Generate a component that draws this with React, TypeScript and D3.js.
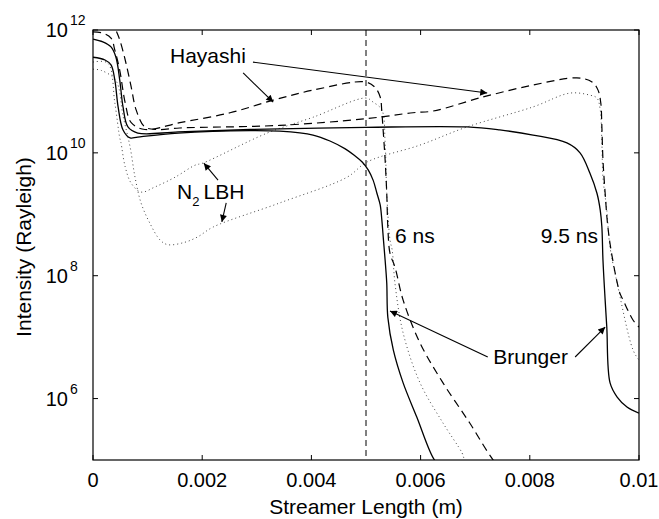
import React from "react";
import { scaleLinear, scaleLog, line, curveCatmullRom } from "d3";

// streamer length (m) vs intensity (Rayleigh)
const brunger6: [number, number][] = [
  [0, 3.6e11], [0.00022, 3.25e11], [0.00033, 2.7e11], [0.0004, 1.53e11],
  [0.00046, 5.6e10], [0.00055, 2.36e10], [0.00068, 1.75e10], [0.00082, 1.81e10],
  [0.00156, 2.1e10], [0.00288, 2.3e10], [0.00342, 2.25e10], [0.00403, 1.95e10],
  [0.00434, 1.56e10], [0.00462, 1.16e10], [0.0048, 8.9e9], [0.00493, 7.1e9],
  [0.00504, 5.3e9], [0.00513, 3.6e9], [0.0052, 2.2e9], [0.00526, 1.42e9],
  [0.00529, 8.1e8], [0.00532, 3.8e8], [0.00535, 1.8e8], [0.00538, 7.6e7],
  [0.0054, 2.1e7], [0.0055, 6.2e6], [0.00568, 1.8e6], [0.00593, 5.0e5],
  [0.00623, 1.08e5], [0.0064, 7e4],
];

const brunger95: [number, number][] = [
  [0, 7.1e11], [0.00018, 6.4e11], [0.00033, 5.3e11], [0.00042, 3.6e11],
  [0.00049, 1.53e11], [0.00055, 5.6e10], [0.00064, 2.64e10], [0.00082, 2.1e10],
  [0.00156, 2.19e10], [0.00288, 2.4e10], [0.005, 2.6e10], [0.00685, 2.64e10],
  [0.00745, 2.36e10], [0.00806, 1.95e10], [0.00868, 1.45e10], [0.00892, 1.0e10],
  [0.0091, 4.7e9], [0.00923, 2.2e9], [0.00929, 1.17e9], [0.00932, 6.2e8],
  [0.00934, 1.8e8], [0.00938, 4.0e7], [0.00941, 1.46e7], [0.00947, 1.8e6],
  [0.0096, 1.06e6], [0.00978, 7.3e5], [0.01, 5.8e5],
];

const hayashi6: [number, number][] = [
  [0, 9.3e11], [0.00018, 8.9e11], [0.00033, 7.4e11], [0.0004, 4.7e11],
  [0.00049, 2.2e11], [0.00059, 6.5e10], [0.0007, 3.1e10], [0.00095, 2.4e10],
  [0.00159, 3.1e10], [0.00251, 4.5e10], [0.0033, 7.2e10], [0.00403, 1.05e11],
  [0.00498, 1.43e11], [0.00516, 1.18e11], [0.00526, 8.1e10], [0.00529, 4.6e10],
  [0.00531, 2.64e10], [0.00535, 7.7e9], [0.00538, 2.2e9], [0.0054, 6.2e8],
  [0.00544, 2.3e8], [0.00553, 1.39e8], [0.00568, 4.0e7], [0.00599, 8.0e6],
  [0.00641, 1.8e6], [0.0069, 4.0e5], [0.00733, 1.0e5], [0.0075, 7e4],
];

const hayashi95: [number, number][] = [
  [0.00035, 1.5e12], [0.00042, 1.0e12], [0.00049, 6.9e11], [0.00059, 3.25e11],
  [0.0007, 1.18e11], [0.00079, 5.0e10], [0.00095, 2.64e10], [0.00119, 2.4e10],
  [0.00159, 2.54e10], [0.00342, 2.8e10], [0.005, 3.6e10], [0.00586, 4.5e10],
  [0.00623, 4.8e10], [0.00714, 8.1e10], [0.00806, 1.27e11], [0.00886, 1.66e11],
  [0.00914, 1.43e11], [0.00925, 1.05e11], [0.0093, 6.5e10], [0.00932, 2.64e10],
  [0.00934, 7.7e9], [0.00938, 2.2e9], [0.00943, 6.2e8], [0.00951, 2.0e8],
  [0.00965, 5.2e7], [0.00971, 4.0e7], [0.00989, 1.9e7], [0.01, 1.46e7],
];

const lbh6: [number, number][] = [
  [0, 3.0e11], [0.00027, 2.9e11], [0.0004, 6.5e10], [0.00049, 1.75e10],
  [0.00051, 1.5e10], [0.00059, 5.9e9], [0.0007, 3.2e9], [0.00088, 2.3e9],
  [0.00114, 2.8e9], [0.0015, 4.0e9], [0.00187, 6.3e9], [0.00201, 6.8e9],
  [0.00319, 2.1e10], [0.00403, 3.8e10], [0.005, 7.8e10], [0.00513, 6.7e10],
  [0.00529, 5.0e10], [0.00535, 1.45e10], [0.00538, 2.2e9], [0.00544, 3.8e8],
  [0.00548, 2.6e8], [0.00553, 7.6e7], [0.00568, 1.17e7], [0.00599, 1.8e6],
  [0.00641, 4.0e5], [0.00676, 1.3e5], [0.00681, 1.0e5], [0.007, 7e4],
];

const lbh95: [number, number][] = [
  [0, 2.3e11], [0.00015, 2.2e11], [0.00042, 1.5e11], [0.00055, 4.0e10],
  [0.00068, 1.24e10], [0.00077, 4.0e9], [0.00088, 1.53e9], [0.00104, 7.2e8],
  [0.00123, 3.8e8], [0.00137, 3.2e8], [0.00168, 3.5e8], [0.00192, 4.3e8],
  [0.0022, 6.2e8], [0.00342, 1.53e9], [0.00465, 4.0e9], [0.00502, 7.1e9],
  [0.00599, 1.34e10], [0.00685, 2.64e10], [0.00806, 5.6e10], [0.00874, 9.4e10],
  [0.0091, 8.7e10], [0.00923, 7.8e10], [0.00929, 5.0e10], [0.00932, 1.45e10],
  [0.00934, 4.0e9], [0.00941, 1.17e9], [0.00947, 2.9e8], [0.0096, 7.6e7],
  [0.00989, 6.2e6], [0.01, 4.2e6],
];

const xTicks = [0, 0.002, 0.004, 0.006, 0.008, 0.01];
const xTickLabels = ["0", "0.002", "0.004", "0.006", "0.008", "0.01"];
const yTicks = [1e6, 1e8, 1e10, 1e12];
const yTickExps = ["6", "8", "10", "12"];
const markerX = 0.005;

// annotations in data coordinates
const textLabels: { text: string; x: number; y: number }[] = [
  { text: "Hayashi", x: 0.00141, y: 2.9e11 },
  { text: "6 ns", x: 0.00553, y: 3.4e8 },
  { text: "9.5 ns", x: 0.0082, y: 3.4e8 },
  { text: "Brunger", x: 0.00733, y: 3.66e6 },
];
const n2Label = { x: 0.00154, y: 1.77e9 };
const arrows: [number, number, number, number][] = [
  [0.00275, 2.0e11, 0.0033, 6.7e10],
  [0.00293, 3.0e11, 0.00722, 9.4e10],
  [0.00229, 3.6e9, 0.00203, 6.8e9],
  [0.00244, 1.53e9, 0.00236, 7.5e8],
  [0.00723, 4.75e6, 0.00544, 2.67e7],
  [0.00883, 4.75e6, 0.00938, 1.46e7],
];

const W = 659;
const H = 519;
const margin = { top: 30, right: 20, bottom: 59, left: 93 };
const font = "'Liberation Sans', Arial, Helvetica, sans-serif";

export default function App() {
  const x = scaleLinear().domain([0, 0.01]).range([margin.left, W - margin.right]);
  const y = scaleLog().domain([1e5, 1e12]).range([H - margin.bottom, margin.top]);

  const path = line<[number, number]>()
    .x((d) => x(d[0]))
    .y((d) => y(d[1]))
    .curve(curveCatmullRom.alpha(0.5));

  const x0 = x(0);
  const x1 = x(0.01);
  const yTop = y(1e12);
  const yBot = y(1e5);
  const tick = 5;

  return (
    <svg
      width={W}
      height={H}
      style={{ position: "absolute", left: 0, top: 0, background: "#fff" }}
      fontFamily={font}
    >
      <defs>
        <clipPath id="plot">
          <rect x={x0} y={yTop} width={x1 - x0} height={yBot - yTop} />
        </clipPath>
        <marker
          id="head"
          viewBox="0 0 10 10"
          refX="10"
          refY="5"
          markerWidth="9"
          markerHeight="7"
          markerUnits="userSpaceOnUse"
          orient="auto"
        >
          <path d="M0,0 L10,5 L0,10 Z" fill="#000" />
        </marker>
      </defs>

      <g clipPath="url(#plot)" fill="none" stroke="#000">
        <line
          x1={x(markerX)}
          x2={x(markerX)}
          y1={yTop}
          y2={yBot}
          strokeWidth={1}
          strokeDasharray="6,4"
        />
        <path d={path(lbh6) || ""} strokeWidth={1} strokeDasharray="1,3" stroke="#444" />
        <path d={path(lbh95) || ""} strokeWidth={1} strokeDasharray="1,3" stroke="#444" />
        <path d={path(hayashi6) || ""} strokeWidth={1.2} strokeDasharray="8,5" />
        <path d={path(hayashi95) || ""} strokeWidth={1.2} strokeDasharray="8,5" />
        <path d={path(brunger6) || ""} strokeWidth={1.3} />
        <path d={path(brunger95) || ""} strokeWidth={1.3} />
      </g>

      {/* frame */}
      <rect x={x0} y={yTop} width={x1 - x0} height={yBot - yTop} fill="none" stroke="#000" strokeWidth={1.2} />

      {xTicks.map((t, i) => (
        <g key={"x" + i}>
          <line x1={x(t)} x2={x(t)} y1={yBot} y2={yBot - tick} stroke="#000" />
          <line x1={x(t)} x2={x(t)} y1={yTop} y2={yTop + tick} stroke="#000" />
          <text x={x(t)} y={yBot + 27} textAnchor="middle" fontSize={20}>
            {xTickLabels[i]}
          </text>
        </g>
      ))}

      {yTicks.map((t, i) => (
        <g key={"y" + i}>
          <line x1={x0} x2={x0 + tick} y1={y(t)} y2={y(t)} stroke="#000" />
          <line x1={x1} x2={x1 - tick} y1={y(t)} y2={y(t)} stroke="#000" />
          <text x={x0 - 25} y={y(t) + 7} textAnchor="end" fontSize={20}>
            10
          </text>
          <text x={x0 - 23} y={y(t) - 5} fontSize={14}>
            {yTickExps[i]}
          </text>
        </g>
      ))}

      <text x={(x0 + x1) / 2} y={H - 5} textAnchor="middle" fontSize={21}>
        Streamer Length (m)
      </text>
      <text
        transform={`translate(31,${(yTop + yBot) / 2 + 2}) rotate(-90)`}
        textAnchor="middle"
        fontSize={21}
      >
        Intensity (Rayleigh)
      </text>

      {textLabels.map((d, i) => (
        <text key={"t" + i} x={x(d.x)} y={y(d.y)} fontSize={21}>
          {d.text}
        </text>
      ))}
      <text x={x(n2Label.x)} y={y(n2Label.y)} fontSize={21}>
        N
        <tspan fontSize={13} dy={7}>2</tspan>
        <tspan dy={-7} dx={4}>LBH</tspan>
      </text>

      {arrows.map((a, i) => (
        <line
          key={"a" + i}
          x1={x(a[0])}
          y1={y(a[1])}
          x2={x(a[2])}
          y2={y(a[3])}
          stroke="#000"
          strokeWidth={1.1}
          markerEnd="url(#head)"
        />
      ))}
    </svg>
  );
}
